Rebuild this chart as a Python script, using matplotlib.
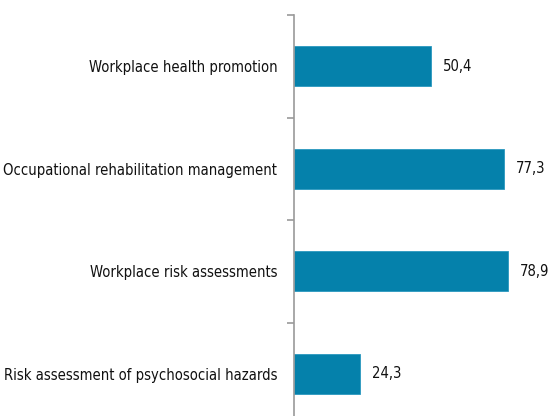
import matplotlib
matplotlib.use("Agg")
import matplotlib.pyplot as plt
from matplotlib import font_manager

categories = [
    "Workplace health promotion",
    "Occupational rehabilitation management",
    "Workplace risk assessments",
    "Risk assessment of psychosocial hazards",
]
values = [50.4, 77.3, 78.9, 24.3]
value_labels = ["50,4", "77,3", "78,9", "24,3"]

bar_color = "#0581ab"
axis_color = "#9a9a9a"

# narrow font if we have one, else condensed DejaVu
names = {f.name for f in font_manager.fontManager.ttflist}
if "Liberation Sans Narrow" in names:
    font, stretch, fsize = "Liberation Sans Narrow", "normal", 13
else:
    font, stretch, fsize = "DejaVu Sans", "condensed", 10.6

fig = plt.figure(figsize=(5.51, 4.16), dpi=100)
ax = fig.add_axes([294 / 551, -9 / 416, 257 / 551, 410 / 416])

ypos = list(range(len(categories)))
ax.barh(ypos, values, height=0.39, color=bar_color, edgecolor="#2a98bf", linewidth=0.6)

for y, v, lbl in zip(ypos, values, value_labels):
    ax.text(v + 4.6, y, lbl, va="center", ha="left", fontsize=fsize,
            family=font, stretch=stretch, color="#111111")

ax.set_xlim(0, 94.8)
ax.set_ylim(len(categories) - 0.5, -0.5)
ax.set_yticks(ypos)
ax.set_yticklabels(categories, family=font, stretch=stretch, fontsize=fsize, color="#111111")
ax.set_yticks([i - 0.5 for i in range(len(categories) + 1)], minor=True)
ax.tick_params(axis="y", which="major", length=0, pad=12)
ax.tick_params(axis="y", which="minor", length=5, width=1.2, color=axis_color)
ax.set_xticks([])
for side in ["top", "right", "bottom"]:
    ax.spines[side].set_visible(False)
ax.spines["left"].set_color(axis_color)
ax.spines["left"].set_linewidth(1.2)

fig.savefig("out.png", dpi=100)
